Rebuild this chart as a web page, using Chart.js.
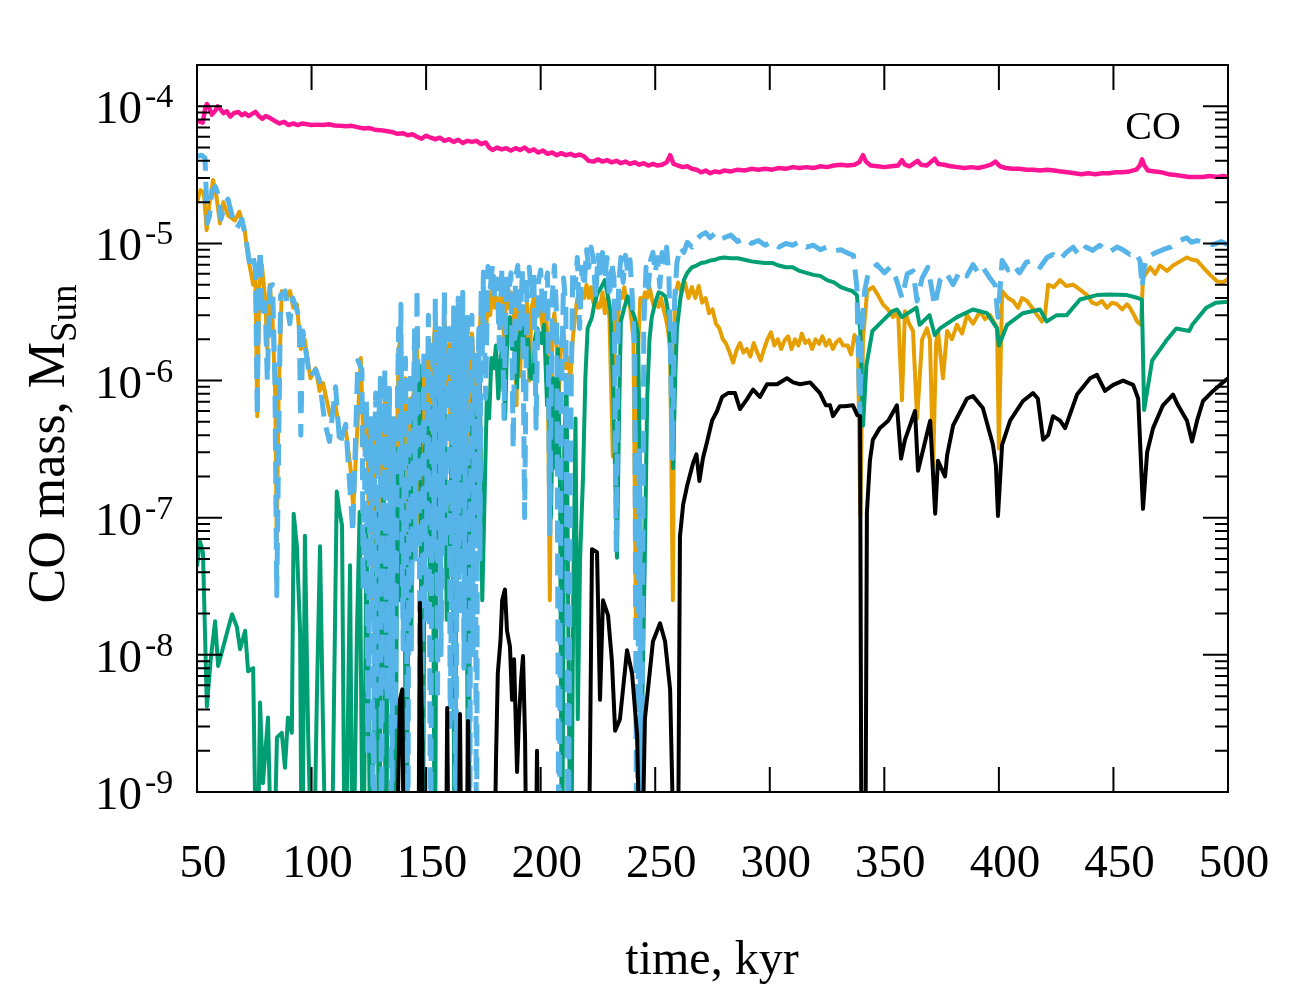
<!DOCTYPE html>
<html>
<head>
<meta charset="utf-8">
<script src="https://cdn.jsdelivr.net/npm/chart.js@4.4.1/dist/chart.umd.min.js"></script>
<style>
  body { margin: 0; background: #fff; }
  canvas { display: block; }
</style>
</head>
<body>
<canvas id="coChart" width="1300" height="1000"></canvas>
<script>
// CO mass (MSun) vs time (kyr), [time, mass] pairs
// 1e-10 = dropped below the plot floor
const magentaCO = [[50,7.7e-5],[51,7.8e-5],[52.5,7.6e-5],[53.5,9.5e-5],[54.3,1.04e-4],[55.5,9.6e-5],[56.5,8.7e-5],[58,9.3e-5],[59,1.0e-4],[60.5,9.4e-5],[61.5,8.9e-5],[63,9.2e-5],[64.5,8.4e-5],[66,8.9e-5],[68,9.1e-5],[69.5,8.6e-5],[71,8.9e-5],[72.5,8.5e-5],[74,8.8e-5],[75.5,9.1e-5],[77,8.5e-5],[78.5,8.1e-5],[80,8.5e-5],[82,8.2e-5],[84,7.8e-5],[86,7.5e-5],[88,7.7e-5],[90,7.3e-5],[92,7.5e-5],[94,7.3e-5],[96,7.5e-5],[98,7.4e-5],[100,7.3e-5],[102.5,7.35e-5],[105,7.3e-5],[107.5,7.4e-5],[110,7.25e-5],[112.5,7.2e-5],[115,7.15e-5],[117.5,7.2e-5],[120,7.05e-5],[122.5,6.9e-5],[125,6.95e-5],[127.5,6.75e-5],[130,6.7e-5],[132.5,6.6e-5],[135,6.5e-5],[137.5,6.3e-5],[140,6.35e-5],[142,6.15e-5],[144,6.25e-5],[146,6.0e-5],[148,5.8e-5],[150,6.1e-5],[152,5.9e-5],[154,5.75e-5],[156,5.9e-5],[158,5.6e-5],[160,5.75e-5],[162,5.5e-5],[164,5.7e-5],[166,5.4e-5],[168,5.6e-5],[170,5.5e-5],[172,5.6e-5],[174,5.3e-5],[176,5.45e-5],[177.5,5.0e-5],[179,4.8e-5],[181,5.0e-5],[183,4.85e-5],[185,4.95e-5],[187,4.75e-5],[189,4.95e-5],[191,4.8e-5],[193,5.0e-5],[195,4.7e-5],[197,4.85e-5],[199,4.6e-5],[201,4.75e-5],[203,4.5e-5],[205,4.6e-5],[207,4.4e-5],[209,4.55e-5],[211,4.4e-5],[213,4.5e-5],[215,4.35e-5],[217,4.45e-5],[219,4.3e-5],[221,4.0e-5],[223,3.95e-5],[225,4.1e-5],[227,3.95e-5],[229,4.05e-5],[231,3.9e-5],[233,4.0e-5],[235,3.85e-5],[237,3.95e-5],[239,3.8e-5],[241,3.9e-5],[243,3.75e-5],[245,3.85e-5],[247,3.7e-5],[249,3.8e-5],[251,3.7e-5],[253,3.75e-5],[255,3.9e-5],[256.5,4.4e-5],[258,3.8e-5],[260,3.7e-5],[262,3.6e-5],[264,3.65e-5],[266,3.5e-5],[268,3.45e-5],[270,3.3e-5],[272,3.4e-5],[274,3.25e-5],[276,3.35e-5],[278,3.3e-5],[280,3.4e-5],[283,3.35e-5],[286,3.45e-5],[289,3.4e-5],[292,3.5e-5],[295,3.45e-5],[298,3.5e-5],[301,3.45e-5],[304,3.55e-5],[307,3.5e-5],[310,3.6e-5],[313,3.55e-5],[316,3.6e-5],[319,3.55e-5],[322,3.65e-5],[325,3.6e-5],[328,3.7e-5],[331,3.75e-5],[334,3.7e-5],[337,3.75e-5],[339,3.9e-5],[340.7,4.4e-5],[342,3.95e-5],[344,3.7e-5],[347,3.65e-5],[350,3.6e-5],[353,3.65e-5],[356,3.7e-5],[357.7,4.05e-5],[359,3.75e-5],[361,3.65e-5],[363,3.85e-5],[364.5,4.0e-5],[366,3.75e-5],[368.5,3.7e-5],[370.5,3.95e-5],[372,4.15e-5],[373.5,3.8e-5],[376,3.75e-5],[379,3.65e-5],[382,3.6e-5],[385,3.55e-5],[388,3.6e-5],[391,3.55e-5],[394,3.65e-5],[396.5,3.75e-5],[398.5,3.95e-5],[400.5,3.65e-5],[403,3.55e-5],[406,3.5e-5],[409,3.5e-5],[412,3.45e-5],[415,3.45e-5],[418,3.4e-5],[421,3.45e-5],[424,3.4e-5],[427,3.35e-5],[430,3.3e-5],[433,3.25e-5],[436,3.2e-5],[439,3.25e-5],[442,3.2e-5],[445,3.25e-5],[448,3.25e-5],[451,3.3e-5],[454,3.3e-5],[457,3.35e-5],[460,3.45e-5],[461.5,3.7e-5],[462.5,4.1e-5],[463.5,3.7e-5],[465,3.4e-5],[468,3.35e-5],[471,3.3e-5],[474,3.2e-5],[477,3.15e-5],[480,3.1e-5],[483,3.05e-5],[486,3.05e-5],[489,3.05e-5],[492,3.1e-5],[495,3.05e-5],[498,3.1e-5],[500,3.05e-5]];

const blueCO = [[50,4.3e-5],[52,4.4e-5],[53.5,4.2e-5],[54.5,1.4e-5],[55.5,1.6e-5],[56.5,2.4e-5],[58,2.6e-5],[59.5,2.2e-5],[60.5,1.5e-5],[62,1.9e-5],[63.5,2.1e-5],[65.3,1.6e-5],[67.5,1.3e-5],[69.6,1.5e-5],[71.5,1.05e-5],[73,7e-6],[74.5,8e-6],[75.5,6.5e-6],[76.3,5.5e-7],[77,6e-6],[77.6,9e-6],[78.5,2.9e-6],[79.7,3.7e-6],[80.7,1.0e-6],[81.8,4.8e-6],[83,5e-6],[84,1e-6],[84.8,2.7e-8],[85.7,4e-7],[86.5,4.2e-6],[88.5,4.5e-6],[90.5,2.6e-6],[91.8,4e-6],[94.6,2.9e-6],[95.3,4e-7],[96.2,2.3e-6],[99.2,1.05e-6],[101.8,1.2e-6],[103.5,1.0e-6],[105.7,5e-7],[107.8,3.6e-7],[110.5,9e-7],[112.3,3.4e-7],[114.9,4.8e-7],[118,7.8e-8],[120.2,1.4e-6],[122,1.2e-6],[122.5,3e-8],[123,9.8e-8],[123.5,4e-7],[124,7.4e-7],[124.5,2e-9],[125,1.3e-8],[125.5,2e-7],[126,5.3e-7],[126.5,1e-8],[127,1e-10],[127.5,3e-7],[128,8.1e-7],[128.5,5e-9],[129,2.3e-7],[129.5,6e-7],[130,1.04e-6],[130.5,1e-10],[131,5e-8],[131.5,4e-7],[132,1.2e-6],[132.5,2e-8],[133,4.7e-9],[133.5,3e-7],[134,8.8e-7],[134.5,5e-8],[135,1e-10],[135.5,1e-7],[136,5.3e-7],[136.5,3e-9],[137,2.5e-8],[137.5,8e-7],[138,2.4e-6],[138.5,2e-7],[139,3.6e-6],[139.5,6e-8],[140,1.1e-8],[140.5,5e-7],[141,1.46e-6],[141.5,4e-8],[142,1e-10],[142.5,3e-7],[143,1.04e-6],[143.5,1e-8],[144,1e-7],[144.5,8e-7],[145,2.4e-6],[145.5,5e-8],[146,4.7e-6],[146.5,9e-7],[147,1.4e-7],[147.5,2e-9],[148,1e-10],[148.5,1e-7],[149,1.7e-6],[149.5,3e-8],[150,1.8e-8],[150.5,6e-7],[151,3e-6],[151.5,2e-8],[152,1e-10],[152.5,4e-7],[153,2e-6],[153.5,6e-8],[154,4e-6],[154.5,2e-7],[155,4.7e-9],[155.5,6e-7],[156,2.4e-6],[156.5,1e-8],[157,5e-8],[157.5,9e-7],[158,4.4e-6],[158.5,6e-8],[159,5.3e-7],[159.5,1e-6],[160,2.4e-6],[160.5,3e-9],[161,2.5e-8],[161.5,7e-7],[162,3.4e-6],[162.5,5e-8],[163,1e-10],[163.5,8e-7],[164,4e-6],[164.5,2e-8],[165,1.46e-6],[165.5,3e-7],[166,4.4e-6],[166.5,8e-9],[167,1.9e-7],[167.5,1.1e-6],[168,2.9e-6],[168.5,6e-8],[169,1e-10],[169.5,4e-7],[170,3e-6],[170.5,1e-8],[171,1.7e-6],[171.5,3e-7],[172,1e-10],[172.5,7e-7],[173,2.4e-6],[173.5,5e-8],[174,4.8e-6],[174.5,1.5e-6],[175,6.2e-6],[175.5,2e-6],[176,7.4e-7],[177,6.8e-6],[178,4.8e-6],[179,7e-6],[180,4e-6],[181,5.5e-6],[182,1.7e-6],[183,6.7e-6],[184,5.3e-7],[185,6.1e-6],[186,4e-6],[187,6.1e-6],[188,3.2e-7],[189,5.6e-6],[190,6.9e-6],[191,2.4e-6],[192,6.4e-6],[193,1e-7],[194,5.2e-6],[195,6.7e-6],[196,4e-6],[197,6.4e-6],[198,4.5e-7],[199,5.2e-6],[200,6.4e-6],[201,2.9e-6],[202,4.8e-6],[203,6.1e-6],[204,7.6e-8],[205,4e-6],[206,6.9e-6],[207,2.9e-6],[208,1e-10],[209,7.4e-7],[210,5.6e-6],[211,3.4e-6],[212,1e-10],[213,3.2e-7],[214,6.4e-6],[215,4.8e-6],[216,7.9e-6],[217,2.4e-6],[218,6.7e-6],[219,4.8e-6],[220,9e-6],[221,6.7e-6],[222,9.4e-6],[223,7.6e-6],[224,4e-6],[225,8.2e-6],[226,6.1e-6],[227,8.6e-6],[228,5.6e-6],[229,7.9e-6],[230,4e-6],[231,7.3e-6],[232,5.6e-6],[233,5.6e-8],[234,4.8e-6],[235,7.9e-6],[236,5.2e-6],[237,8.2e-6],[238,6.1e-6],[239,7.6e-6],[240,4e-6],[241,1.7e-6],[242,1e-10],[243,3.2e-7],[244,1e-10],[245,2.4e-6],[246,6.7e-6],[247,4.8e-6],[248,7.6e-6],[249,8.6e-6],[250,6.1e-6],[251,7.9e-6],[252,4.8e-6],[253,8.6e-6],[254,7.3e-6],[255,9.4e-6],[256,5.6e-6],[257.5,2.7e-7],[258.5,4e-6],[259.5,7.3e-6],[261,9.4e-6],[262.5,8.6e-6],[264,1.02e-5],[266,9.4e-6],[268,1.07e-5],[270,1.15e-5],[272,1.2e-5],[274,1.1e-5],[276,1.18e-5],[278,1.07e-5],[280,1.1e-5],[283,1.15e-5],[286,1.03e-5],[289,1.1e-5],[292,1e-5],[295,1.05e-5],[298,9.7e-6],[301,1.03e-5],[304,9.4e-6],[307,1e-5],[310,9.7e-6],[313,1.03e-5],[316,9.4e-6],[319,9.7e-6],[322,9e-6],[325,9.4e-6],[328,8.8e-6],[331,9e-6],[334,8.5e-6],[336.5,8.2e-6],[338,4.8e-6],[339.3,5.6e-7],[340.2,2.4e-6],[341.5,4.6e-6],[343,6.1e-6],[346.8,7e-6],[350,6.1e-6],[352.5,6.7e-6],[355,5.6e-6],[357.7,4e-6],[360,6e-6],[362.5,6.3e-6],[364.3,3.8e-6],[366.5,5.6e-6],[369,6.7e-6],[372,3.5e-6],[374.3,5.4e-6],[377,6.1e-6],[380,5e-6],[383,6.3e-6],[386,5.8e-6],[388.7,7e-6],[391,6.1e-6],[393,6.7e-6],[396,5.6e-6],[398.3,5e-6],[399.6,2.9e-6],[401.4,7.5e-6],[404,6.4e-6],[406.2,7e-6],[409,6.1e-6],[412,7.3e-6],[415,7.5e-6],[418,6.7e-6],[421,7.9e-6],[423.6,8.3e-6],[426.5,7.6e-6],[429.5,8.6e-6],[432.4,9.4e-6],[435,8.2e-6],[438,9.4e-6],[441,8.9e-6],[444,9.7e-6],[448,8.6e-6],[451.6,9.4e-6],[454.5,8.9e-6],[457.2,8.3e-6],[459.5,8.6e-6],[461.6,7.5e-6],[462.5,4.8e-6],[463.5,6.7e-6],[464.7,7.9e-6],[468,8.5e-6],[471.6,9e-6],[475,9.4e-6],[479,1.05e-5],[482,1.1e-5],[484,1.02e-5],[486.5,1.05e-5],[490,1e-5],[493.5,9.8e-6],[497,1.03e-5],[500,9.8e-6]];

const orangeCO = [[50,2e-5],[51.5,2.45e-5],[53,2.35e-5],[54.2,1.25e-5],[55.5,2e-5],[57,2.9e-5],[58.5,2.2e-5],[60,1.4e-5],[61.5,2e-5],[63.5,1.6e-5],[66.5,1.47e-5],[68.5,1.7e-5],[70.8,1.25e-5],[72.3,7.9e-6],[74.5,5e-6],[75.5,5.6e-6],[76.3,5.5e-7],[77.2,4.8e-6],[78.3,7e-6],[79.7,4e-6],[80.7,1.7e-6],[81.8,5e-6],[83,2.7e-6],[84.2,7.4e-7],[84.8,6.4e-8],[85.6,7.4e-7],[87,4.5e-6],[89,4e-6],[90.6,4.5e-6],[92,3.4e-6],[93.6,3.6e-6],[95.3,1.7e-6],[97,2e-6],[99.5,1.04e-6],[101.8,1.23e-6],[103.5,8.4e-7],[105,9.6e-7],[108,5.6e-7],[110.5,6.6e-7],[112.5,3.8e-7],[114.9,4.4e-7],[117,2.3e-7],[118.2,1.16e-7],[120,4.5e-7],[121.5,1.46e-6],[122.5,4e-7],[123,3.2e-7],[124,6.3e-7],[125,1e-7],[126,4.5e-7],[127,2.5e-8],[128,5.3e-7],[129,2.3e-7],[130,6.8e-7],[131,7e-8],[132,8.1e-7],[133,1.9e-7],[134,7.4e-7],[135,1.8e-8],[136,4.5e-7],[137,1.9e-7],[138,1.7e-6],[139,2.15e-6],[140,1.4e-7],[141,1.04e-6],[142,5e-8],[143,7.4e-7],[144,3.2e-7],[145,1.7e-6],[146,2e-6],[147,1.9e-7],[148,3.6e-8],[149,1.23e-6],[150,2.7e-7],[151,2e-6],[152,1e-7],[153,1.46e-6],[154,2.9e-6],[155,5e-8],[156,1.7e-6],[157,2.3e-7],[158,2.8e-6],[159,7.4e-7],[160,1.85e-6],[161,1.9e-7],[162,2.4e-6],[163,2.5e-8],[164,2.8e-6],[165,1.23e-6],[166,2.4e-6],[167,5.3e-7],[168,2e-6],[169,1.4e-7],[170,2.2e-6],[171,1.23e-6],[172,2.3e-7],[173,1.85e-6],[174,3.4e-6],[175,4.7e-6],[176,2e-6],[177,4e-6],[178,3e-6],[179,4.8e-6],[180,3.4e-6],[181,4e-6],[182,2.4e-6],[183,4.4e-6],[184,2e-6],[185,4e-6],[186,3.4e-6],[187,4.4e-6],[188,4e-6],[189.5,6.6e-7],[190,3.7e-6],[191,1.08e-6],[192,3.3e-6],[193,2.4e-6],[194,3.7e-6],[195,1e-6],[196,3.4e-6],[197,4e-6],[198,2.9e-6],[199,3.7e-6],[200,3.1e-6],[201,2.4e-6],[202,3.7e-6],[203,2e-6],[204,2.5e-8],[205,2.4e-6],[206,3.1e-6],[207,1.7e-6],[208,8.2e-7],[209,2e-6],[210,2.4e-6],[211,1.23e-6],[212,1.46e-6],[213,1.04e-6],[214,2e-6],[215,2.9e-6],[216,4e-6],[217,3.4e-6],[218,4.4e-6],[219,4e-6],[220,5e-6],[221,4e-6],[222,4.8e-6],[223,3.7e-6],[224,4e-6],[225,3.4e-6],[226,3.45e-6],[227,4.4e-6],[228,3.1e-6],[229,4e-6],[230,2.9e-6],[231.5,2.8e-7],[232.5,3.4e-6],[233.5,2.4e-6],[234.5,4.4e-6],[235.5,4e-6],[236.5,4.8e-6],[237.5,3.7e-6],[238.5,4e-6],[239.5,2.9e-6],[240.5,2e-6],[241.6,1.5e-8],[242.5,1.7e-6],[243.5,4e-6],[244.5,3.7e-6],[245.5,4.4e-6],[246.5,4e-6],[247.5,4.8e-6],[248.5,4e-6],[249.5,3.4e-6],[250.5,3.7e-6],[251.5,3.45e-6],[252.5,4e-6],[253.5,3.4e-6],[254.5,2.9e-6],[255.5,2.4e-6],[256.5,1.7e-6],[257.7,2.5e-8],[258.5,4e-6],[260,5.2e-6],[261.5,4.4e-6],[263,5.2e-6],[264.5,4e-6],[266,4.8e-6],[267.5,4e-6],[269,4.9e-6],[270.5,3.7e-6],[272,4e-6],[273.5,3.1e-6],[275,3.3e-6],[276.5,2.6e-6],[278,2.4e-6],[279.5,2e-6],[281,1.85e-6],[282.5,1.6e-6],[284,1.35e-6],[285.5,1.67e-6],[287,1.88e-6],[288.5,1.6e-6],[290,1.7e-6],[291.5,1.5e-6],[293,1.88e-6],[294.5,1.6e-6],[296,1.4e-6],[297.5,1.7e-6],[299,2e-6],[300.5,2.25e-6],[302,1.8e-6],[303.5,2e-6],[305,1.7e-6],[306.5,1.97e-6],[308,2.1e-6],[309.5,1.7e-6],[311,2e-6],[312.5,1.8e-6],[314,2.2e-6],[315.5,1.88e-6],[317,1.97e-6],[318.5,1.7e-6],[320,2e-6],[321.5,1.85e-6],[323,2.1e-6],[324.5,1.8e-6],[326,1.97e-6],[327.5,1.7e-6],[329,1.9e-6],[330.5,2e-6],[332,1.8e-6],[334,1.8e-6],[335.5,1.55e-6],[337,2.15e-6],[338.5,1.88e-6],[339.5,1.03e-7],[340.7,2e-6],[342.5,4.5e-6],[345,4.8e-6],[347.2,4.2e-6],[349.4,3.6e-6],[351.6,3.3e-6],[353.8,2.9e-6],[356,3.2e-6],[357.7,7.2e-7],[359,3.2e-6],[360.8,2.6e-6],[362.5,2.3e-6],[364.3,5.3e-7],[366.5,2e-6],[368.6,2.4e-6],[369.9,2e-6],[371.3,2.4e-7],[372.6,1.88e-6],[373.4,2.3e-6],[375.6,1.04e-6],[377.4,2.3e-6],[379.5,2e-6],[381.7,2.55e-6],[383.9,2.2e-6],[386.1,3e-6],[388.7,2.6e-6],[391.8,3.2e-6],[393.9,2.8e-6],[396.1,3e-6],[398.3,2.6e-6],[399.2,2.4e-6],[400,3.2e-7],[401.4,4.5e-6],[404,4e-6],[406.2,3.8e-6],[408.4,3.4e-6],[410.1,4e-6],[412.3,3.8e-6],[414.5,3.4e-6],[416.7,3e-6],[418.8,2.7e-6],[420.1,3e-6],[421.5,5e-6],[424,4.8e-6],[426.7,5.4e-6],[429.3,4.9e-6],[432.4,5e-6],[435.4,4.6e-6],[438.5,4.2e-6],[440.7,3.7e-6],[442.8,3.6e-6],[445,3.8e-6],[447.2,3.4e-6],[449.4,3.7e-6],[451.6,3.6e-6],[453.8,3.3e-6],[455.9,3.6e-6],[457.2,3.4e-6],[459,3e-6],[460.3,2.7e-6],[462,2.55e-6],[462.9,5.6e-6],[466,6.7e-6],[468.2,6e-6],[470.3,6.9e-6],[473.4,6.3e-6],[476,6.9e-6],[479.1,7.4e-6],[482.1,7.9e-6],[484.3,7.6e-6],[486.5,7.5e-6],[489.1,6.7e-6],[492.2,5.9e-6],[495.2,5.3e-6],[497.8,5.2e-6],[500,5.5e-6]];

const greenCO = [[50,4.4e-8],[51.3,6.7e-8],[52.6,5.6e-8],[54.3,4.2e-9],[56,9.3e-9],[57.9,1.76e-8],[59.2,8.3e-9],[61.5,1.15e-8],[63.5,1.54e-8],[65.3,1.98e-8],[67.4,1.6e-8],[68.8,1.1e-8],[71,1.5e-8],[72.3,7.6e-9],[74.5,8e-9],[76.2,1e-10],[77.5,4.5e-9],[78.8,1.16e-9],[81,3.5e-9],[83,1e-10],[84.9,2.5e-9],[87,2.7e-9],[88.4,1.5e-9],[89.7,3.5e-9],[91.4,2.7e-9],[92.2,1.07e-7],[93.6,6.2e-8],[95,1.46e-8],[95.8,1e-10],[97.1,7.4e-8],[98.5,2.7e-9],[100.6,1e-10],[102.3,4.7e-9],[103.7,6.2e-8],[105,3e-9],[106.7,1e-10],[108.5,1e-10],[109.8,4.7e-9],[111,1.55e-7],[112,1.16e-7],[113.3,8.8e-8],[114.6,1e-10],[116.8,4.5e-8],[118,1e-10],[119.8,1.46e-8],[121,1.1e-7],[122.5,1e-10],[124,8.8e-8],[126,1e-10],[128.5,1.22e-7],[129.5,1e-10],[130.5,5e-8],[131.5,1.9e-7],[132.5,1e-10],[133.5,1e-7],[134.5,1.8e-8],[135.5,2.3e-7],[136.5,1e-10],[137.5,3.2e-7],[138.5,2.5e-8],[139.5,4.9e-7],[140.5,7e-8],[141.5,1e-10],[142.5,2.7e-7],[143.5,1.1e-8],[144.5,5.3e-7],[145.5,1.4e-7],[146.5,1.04e-6],[147.3,1.28e-6],[148.5,1e-10],[149.5,3.2e-7],[150.8,4.6e-7],[151.8,2.5e-8],[152.8,6.3e-7],[153.8,1e-10],[154.8,7.4e-7],[156,1.15e-6],[157,1e-7],[158,8.8e-7],[159,1.8e-8],[160.4,9.2e-8],[161.5,5.3e-7],[162.5,1e-10],[163.5,1.04e-6],[164.3,1.23e-6],[165.5,5e-8],[166.5,7.4e-7],[167.5,3.8e-7],[168.5,1e-10],[169.3,2.2e-7],[170.5,7.4e-7],[171.5,1e-7],[172.5,5.3e-7],[173.5,9.6e-7],[174.5,2.5e-8],[175.7,1.9e-7],[176.5,7.4e-7],[177.5,5.3e-7],[178.5,1.46e-6],[179.5,1.23e-6],[180.5,1.8e-6],[181.5,7.4e-7],[182.5,1.4e-6],[183.5,2e-6],[184.5,5.3e-7],[185.5,2.4e-6],[186.6,2.9e-6],[187.5,1.7e-6],[188.5,2.4e-6],[189.7,8.9e-7],[190.5,2e-6],[191.5,2.4e-6],[192.3,2.6e-6],[193.5,1.46e-6],[194.5,2e-6],[195.5,1.04e-6],[196.7,1.03e-6],[197.5,2e-6],[198.4,2.4e-6],[199.5,2.2e-6],[200.5,1.88e-6],[201.5,2.55e-6],[202.8,6.6e-7],[203.5,1.46e-6],[204.5,1e-7],[205.5,1.04e-6],[206.5,2.3e-7],[207.5,1.7e-6],[208.5,1.4e-7],[209.3,1e-10],[210.3,3.2e-7],[211.3,1.04e-6],[212.3,4.7e-9],[213.2,1e-10],[214.2,2.5e-8],[215.2,5.3e-7],[216.2,3.4e-9],[217.2,5e-8],[218.5,2e-7],[219.5,1.04e-6],[220.5,2.4e-6],[222.4,2.9e-6],[223.5,3.7e-6],[225,4.4e-6],[226.5,4.8e-6],[228,5.4e-6],[229.5,4e-6],[230.5,3.2e-6],[231.8,7.4e-7],[233.3,5.1e-8],[234.2,5.3e-7],[235,2.7e-6],[236.5,3.4e-6],[238,4.1e-6],[239.5,3.4e-6],[241,2.9e-6],[242.5,2.2e-6],[243.5,1.4e-7],[244.1,2.5e-9],[245.5,5.6e-8],[246.5,7.4e-7],[247.5,2e-6],[248.5,2.9e-6],[250,3.7e-6],[251.5,4.4e-6],[253,4.3e-6],[254.5,4.1e-6],[256,2.9e-6],[257,1.06e-6],[257.8,2.3e-7],[258.7,1.04e-6],[259.5,2.4e-6],[261,4e-6],[262.5,5.4e-6],[264,6.1e-6],[266,6.7e-6],[268,6.9e-6],[270,7.2e-6],[272,7.3e-6],[274,7.5e-6],[276,7.6e-6],[278,7.8e-6],[280,7.9e-6],[283,7.8e-6],[286,7.8e-6],[289,7.6e-6],[292,7.4e-6],[295,7.3e-6],[298,7.2e-6],[301,7.2e-6],[304,6.9e-6],[307,6.7e-6],[310,6.7e-6],[313,6.3e-6],[316,6.1e-6],[319,5.9e-6],[322,5.8e-6],[325,5.4e-6],[328,5.2e-6],[331,4.8e-6],[334,4.6e-6],[336,4.5e-6],[338,4.2e-6],[339.5,2.3e-6],[340.7,4.7e-7],[342.2,1.3e-6],[344.8,2.3e-6],[349,2.7e-6],[353.5,3.2e-6],[355.5,3.3e-6],[357.7,2.9e-6],[359,3e-6],[364,3.4e-6],[365.4,2.55e-6],[369.7,3e-6],[372,2.15e-6],[374.3,2.4e-6],[381.7,2.9e-6],[388.7,3.3e-6],[394.8,3.1e-6],[399.2,2.4e-6],[400,1.8e-6],[403.6,2.55e-6],[410.5,3.1e-6],[417.9,3.3e-6],[420.9,2.7e-6],[425.3,3e-6],[429.6,3e-6],[435.4,3.9e-6],[442.8,4.2e-6],[448,4.25e-6],[455.9,4.2e-6],[460.7,4e-6],[462.4,3.9e-6],[463.4,6.1e-7],[466.9,1.4e-6],[473,1.95e-6],[477.4,2.4e-6],[483.1,2.3e-6],[484.4,2.55e-6],[490.5,3.4e-6],[494.8,3.7e-6],[500,3.75e-6]];

const blackCO = [[50,1e-10],[136.5,1e-10],[138.6,4.7e-9],[139.6,5.6e-9],[140.5,1e-10],[146.5,1e-10],[147.3,2.4e-8],[148.3,2.4e-9],[149,1e-10],[158.5,1e-10],[159.2,4.1e-9],[160,1e-10],[164,1e-10],[164.8,3.7e-9],[165.6,1e-10],[167.5,1e-10],[168.3,3.3e-9],[169.2,1e-10],[179.5,1e-10],[180.5,1.7e-9],[181.3,7.4e-9],[182.5,1.3e-8],[183.2,2.5e-8],[184.4,3e-8],[185.3,1.5e-8],[186.6,1.15e-8],[187.5,4.7e-9],[188.4,9.3e-9],[189.7,1.4e-9],[190.5,3.4e-9],[191.5,6.7e-9],[192.3,9.8e-9],[193.2,2.4e-9],[194,1e-10],[197.6,1e-10],[198.4,2e-9],[199.2,1e-10],[220.8,1e-10],[222.4,5.9e-8],[224.6,5.6e-8],[225.9,4.7e-9],[227.2,2.5e-8],[229.4,1.95e-8],[231.1,9e-9],[232.5,2.8e-9],[234.6,3.4e-9],[237.7,1.08e-8],[239.9,7.3e-9],[242.1,2.6e-9],[243.8,1e-10],[245.5,3.4e-9],[249,1.25e-8],[252.1,1.7e-8],[254.3,1.25e-8],[256.5,5.6e-9],[258.8,1e-10],[259.8,1e-10],[260.8,7.3e-8],[262.2,1.25e-7],[263.9,1.7e-7],[266.5,2.5e-7],[268,2.9e-7],[269.3,1.85e-7],[270.8,2.7e-7],[272.5,3.5e-7],[274.8,5.1e-7],[277,6e-7],[279.2,7.6e-7],[281.8,8.1e-7],[284.8,8.1e-7],[287,6.2e-7],[290,7.3e-7],[292.7,8.6e-7],[295.7,7.6e-7],[298.8,9.4e-7],[303.2,9.4e-7],[307.5,1.04e-6],[310.2,9.7e-7],[313.2,9.4e-7],[317.6,9.7e-7],[321.9,8.1e-7],[324.5,6.6e-7],[326.3,6.6e-7],[327.6,5.5e-7],[330.6,6.5e-7],[332.8,6.5e-7],[336.3,6.6e-7],[338.2,5.6e-7],[339.4,5.5e-7],[340.1,1e-10],[341.6,1e-10],[342.4,1.1e-7],[343.7,2.6e-7],[345,3.7e-7],[348,4.5e-7],[351.7,5.1e-7],[355.5,6.6e-7],[357.3,2.7e-7],[359,3.7e-7],[363.4,6e-7],[364.7,2.2e-7],[370,5.1e-7],[372.2,1.07e-7],[373.4,2.6e-7],[376.5,2e-7],[377.4,2.85e-7],[380,4.7e-7],[386.1,7.4e-7],[388.7,7.7e-7],[393,6.3e-7],[397.4,3.4e-7],[398.7,2.4e-7],[399.6,1.03e-7],[401.4,3.4e-7],[404.9,5.1e-7],[410.5,7.1e-7],[414.9,8.1e-7],[417,7.4e-7],[419.3,3.7e-7],[421.5,4e-7],[423.6,5.5e-7],[426.7,5.1e-7],[428.9,4.5e-7],[434.1,7.9e-7],[439.8,1.04e-6],[442.8,1.1e-6],[446.3,8.4e-7],[449.9,9.3e-7],[454.2,1e-6],[458.6,9.3e-7],[460.8,7.4e-7],[462.9,1.16e-7],[464.7,3e-7],[467.3,4.5e-7],[471.6,6.6e-7],[476,7.9e-7],[478.2,6.6e-7],[482.1,5.1e-7],[484.3,3.6e-7],[486.5,5.1e-7],[489.1,7.1e-7],[493.5,8.4e-7],[496.5,9.3e-7],[500,1.04e-6]];

const xTicks = [50, 100, 150, 200, 250, 300, 350, 400, 450, 500];
const yDecades = [-9, -8, -7, -6, -5, -4];

function toPoints(pairs) {
  return pairs.map(p => ({ x: p[0], y: p[1] }));
}

// frame, inward ticks and gnuplot-like labels, drawn from the chart scales
const axesPlugin = {
  id: 'axesPlugin',
  afterDatasetsDraw(chart) {
    const ctx = chart.ctx;
    const area = chart.chartArea;
    const xs = chart.scales.x;
    const ys = chart.scales.y;
    ctx.save();
    ctx.strokeStyle = '#000';
    ctx.lineWidth = 2;
    ctx.strokeRect(area.left, area.top, area.right - area.left, area.bottom - area.top);

    ctx.beginPath();
    xTicks.forEach(v => {
      const px = xs.getPixelForValue(v);
      ctx.moveTo(px, area.bottom); ctx.lineTo(px, area.bottom - 25);
      ctx.moveTo(px, area.top); ctx.lineTo(px, area.top + 25);
    });
    yDecades.forEach(e => {
      for (let m = 1; m <= 9; m++) {
        const v = m * Math.pow(10, e);
        if (v < ys.min * 0.999 || v > ys.max * 1.001) continue;
        const py = ys.getPixelForValue(v);
        const len = m === 1 ? 25 : 13;
        ctx.moveTo(area.left, py); ctx.lineTo(area.left + len, py);
        ctx.moveTo(area.right, py); ctx.lineTo(area.right - len, py);
      }
    });
    ctx.stroke();

    ctx.fillStyle = '#000';
    ctx.textBaseline = 'alphabetic';
    ctx.font = '47px "Liberation Serif"';
    ctx.textAlign = 'center';
    xTicks.forEach(v => {
      ctx.fillText(String(v), xs.getPixelForValue(v) + 6, 877);
    });

    yDecades.forEach(e => {
      const py = ys.getPixelForValue(Math.pow(10, e));
      ctx.textAlign = 'left';
      ctx.font = '47px "Liberation Serif"';
      ctx.fillText('10', 95, py + 17);
      const w = ctx.measureText('10').width;
      ctx.font = '34px "Liberation Serif"';
      ctx.fillText(String(e), 95 + w + 3, py + 1);
    });

    // axis titles
    ctx.font = '48px "Liberation Serif"';
    ctx.textAlign = 'center';
    ctx.fillText('time, kyr', 712, 974);

    ctx.font = '40px "Liberation Serif"';
    ctx.fillText('CO', 1153, 139);

    ctx.translate(64, 444);
    ctx.rotate(-Math.PI / 2);
    ctx.font = '52px "Liberation Serif"';
    const main = 'CO mass, M';
    const wMain = ctx.measureText(main).width;
    ctx.font = '37px "Liberation Serif"';
    const wSub = ctx.measureText('Sun').width;
    const start = -(wMain + wSub) / 2;
    ctx.textAlign = 'left';
    ctx.font = '52px "Liberation Serif"';
    ctx.fillText(main, start, 0);
    ctx.font = '37px "Liberation Serif"';
    ctx.fillText('Sun', start + wMain, 12);
    ctx.restore();
  }
};

const ctx = document.getElementById('coChart').getContext('2d');
const coChart = new Chart(ctx, {
  type: 'line',
  data: {
    datasets: [
      { label: 'black', data: toPoints(blackCO), borderColor: '#000000', borderWidth: 4, order: 1 },
      { label: 'blue', data: toPoints(blueCO), borderColor: '#56b4e9', borderWidth: 5, borderDash: [22, 11], order: 2 },
      { label: 'green', data: toPoints(greenCO), borderColor: '#009e73', borderWidth: 4, order: 3 },
      { label: 'orange', data: toPoints(orangeCO), borderColor: '#e69f00', borderWidth: 4, order: 4 },
      { label: 'magenta', data: toPoints(magentaCO), borderColor: '#ff1493', borderWidth: 4.5, order: 5 }
    ]
  },
  options: {
    responsive: false,
    animation: false,
    devicePixelRatio: 1,
    layout: { padding: { left: 197, right: 72, top: 65, bottom: 208 } },
    elements: {
      point: { radius: 0 },
      line: { tension: 0, fill: false, borderJoinStyle: 'round' }
    },
    plugins: {
      legend: { display: false },
      tooltip: { enabled: false }
    },
    scales: {
      x: { type: 'linear', min: 50, max: 500, display: false },
      y: { type: 'logarithmic', min: 1e-9, max: 2e-4, display: false }
    }
  },
  plugins: [axesPlugin]
});
</script>
</body>
</html>
